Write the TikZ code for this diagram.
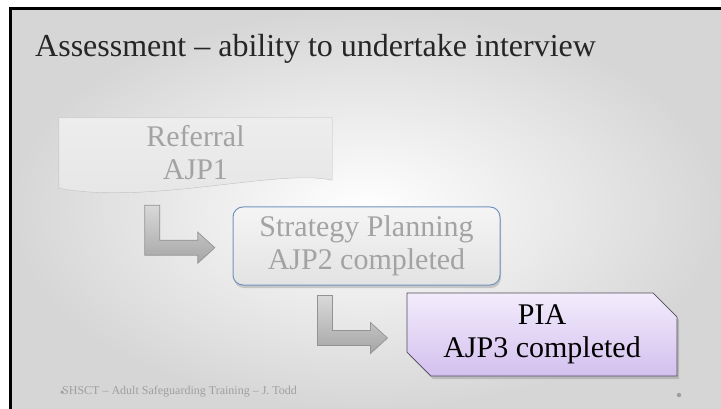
\documentclass[tikz,border=0pt]{standalone}
\usepackage{fontspec}
\setmainfont{Liberation Serif}
\usetikzlibrary{shapes,shadows,calc,backgrounds,positioning}

\definecolor{planedge}{HTML}{7393BF}
\definecolor{piatop}{HTML}{F3ECFC}
\definecolor{piabot}{HTML}{D3C0EE}
\definecolor{piaedge}{HTML}{4F4B5C}
\definecolor{fadetext}{HTML}{A3A3A3}
\newcommand{\boxfont}{\fontsize{30}{33}\selectfont}

\tikzset{
	stagebox/.style={minimum height=78pt,align=center,font=\boxfont,inner sep=0pt},
	bentarrow/.style={top color=gray!30,bottom color=gray!70,draw=gray!85,line width=.7pt,line join=miter},
}

\begin{document}
\begin{tikzpicture}[x=1pt,y=1pt]
	\useasboundingbox (0,0) rectangle (721,-409);

	\node[anchor=base west,font=\fontsize{32}{36}\selectfont,text=black!85,inner sep=0pt] (title) at (35,-57) {Assessment -- ability to undertake interview};

	\node[stagebox,minimum width=273pt,minimum height=70pt,text=fadetext] (ref) at (195.5,-153) {Referral\\AJP1};
	\node[stagebox,minimum width=267pt,text=fadetext,draw=planedge,line width=1pt,rounded corners=10pt,
		top color=gray!8,bottom color=gray!22,drop shadow={shadow xshift=1pt,shadow yshift=-3pt,opacity=.35}] (plan) at (366.5,-246) {Strategy Planning\\AJP2 completed};
	\node[stagebox,chamfered rectangle,chamfered rectangle corners={north east,south west},chamfered rectangle xsep=12pt,chamfered rectangle ysep=12pt,
		minimum width=270pt,minimum height=81pt,text=black,draw=piaedge,line width=.8pt,top color=piatop,bottom color=piabot,
		drop shadow={shadow xshift=2pt,shadow yshift=-3pt,opacity=.35}] (pia) at (542,-334.5) {PIA\\AJP3 completed};

	\foreach \from/\dx/\dy in {ref/86/-17,plan/85/-10}
		\path[bentarrow,shift={($(\from.south west)+(\dx,\dy)$)}]
			(0,0) -- (15,0) -- (15,-35) -- (53,-35) -- (53,-27) -- (70,-42.5) -- (53,-58) -- (53,-50) -- (0,-50) -- cycle;

	\node[anchor=west,font=\fontsize{12}{14}\selectfont,text=gray!75,inner sep=0pt] (foot) at (62,-392) {SHSCT -- Adult Safeguarding Training -- J. Todd};
	\node[circle,fill=gray!75,inner sep=0pt,minimum size=3.5pt] (dotl) at (foot.west) {};
	\node[circle,fill=gray!75,inner sep=0pt,minimum size=4.5pt] (dotr) at (679,-395) {};

	\begin{scope}[on background layer]
		\shade[inner color=white,outer color=gray!32] (12,-10) rectangle (721,-409);
		\draw[line width=3pt] (10.5,-409) -- (10.5,-8.5) -- (721,-8.5);
		\fill[gray,opacity=.35,xshift=2pt,yshift=-3pt] (ref.north west) -- (ref.north east) -- ($(ref.south east)+(0,8)$) .. controls +(-52,12) and +(91,-17) .. (ref.south west) -- cycle;
		\shade[top color=gray!14,bottom color=gray!20,draw=gray!45] (ref.north west) -- (ref.north east) -- ($(ref.south east)+(0,8)$) .. controls +(-52,12) and +(91,-17) .. (ref.south west) -- cycle;
	\end{scope}
\end{tikzpicture}
\end{document}
